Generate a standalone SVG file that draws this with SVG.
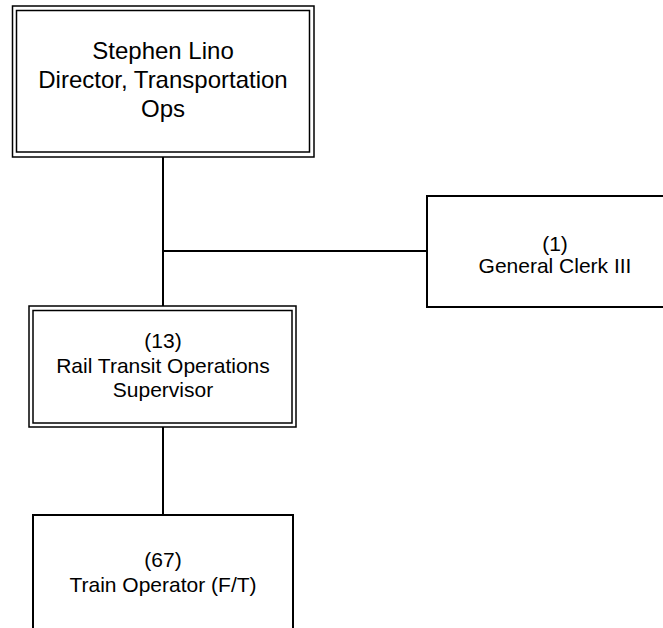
<svg xmlns="http://www.w3.org/2000/svg" width="663" height="628" viewBox="0 0 663 628">
<style>
.box{fill:#fff;stroke:#000;stroke-width:2}
.dbl{fill:none;stroke:#000;stroke-width:1.5}
.conn{fill:none;stroke:#000;stroke-width:2}
text{font-family:"Liberation Sans",Arial,sans-serif;fill:#000;text-anchor:middle}
.big{font-size:24px}
.sm{font-size:21px}
</style>
<rect width="663" height="628" fill="#fff"/>
<g id="connectors">
<line class="conn" x1="163" y1="157" x2="163" y2="306"/>
<line class="conn" x1="163" y1="251" x2="427" y2="251"/>
<line class="conn" x1="163" y1="427" x2="163" y2="515"/>
</g>
<g id="director">
<rect class="dbl" x="12.5" y="6" width="301.5" height="151" fill="#fff"/>
<rect class="dbl" x="16.5" y="10.5" width="293" height="141.5"/>
<text class="big" x="163" y="59">Stephen Lino</text>
<text class="big" x="163" y="88">Director, Transportation</text>
<text class="big" x="163" y="117">Ops</text>
</g>
<g id="clerk">
<rect class="box" x="427" y="196" width="256" height="111"/>
<text class="sm" x="555" y="251">(1)</text>
<text class="sm" x="555" y="273">General Clerk III</text>
</g>
<g id="supervisor">
<rect class="dbl" x="29" y="306" width="267" height="121" fill="#fff"/>
<rect class="dbl" x="33" y="310.5" width="259" height="112.5"/>
<text class="sm" x="163" y="348">(13)</text>
<text class="sm" x="163" y="373">Rail Transit Operations</text>
<text class="sm" x="163" y="397">Supervisor</text>
</g>
<g id="operator">
<rect class="box" x="33" y="515" width="260" height="130"/>
<text class="sm" x="163" y="567">(67)</text>
<text class="sm" x="163" y="592">Train Operator (F/T)</text>
</g>
</svg>
